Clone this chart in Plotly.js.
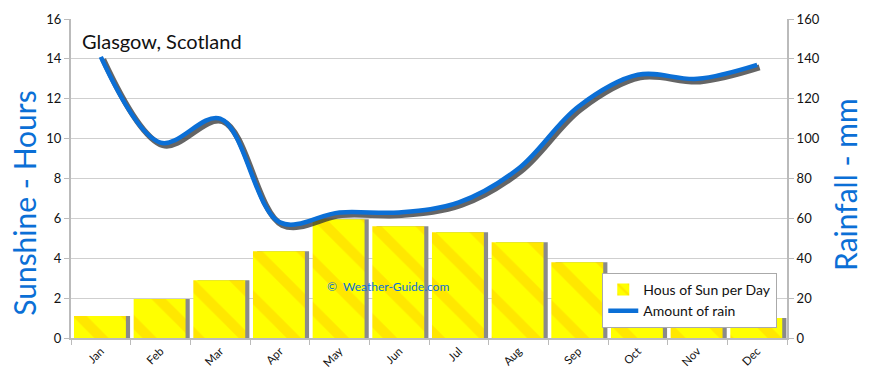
<!DOCTYPE html>
<html>
<head>
<meta charset="utf-8">
<script src="https://cdn.plot.ly/plotly-3.0.1.min.js"></script>
<style>html,body{margin:0;padding:0;background:#fff}#chart{width:870px;height:377px}</style>
</head>
<body>
<div id="chart"></div>
<script>
const months = ["Jan","Feb","Mar","Apr","May","Jun","Jul","Aug","Sep","Oct","Nov","Dec"];
const sunHours = [1.1, 1.95, 2.9, 4.35, 5.95, 5.6, 5.3, 4.8, 3.8, 2.5, 1.4, 1.0];
const rainMm = [141, 98, 110, 58, 63, 63, 68, 85, 116, 132, 130, 137];
const leftTicks = [0,2,4,6,8,10,12,14,16];
const rightTicks = [0,20,40,60,80,100,120,140,160];

const FONT = "Lato, 'DejaVu Sans', sans-serif";
const BLUE = "#0b6fd6";

const traces = [
  { // bar shadow
    type: "bar", x: months, y: sunHours, xaxis: "x", yaxis: "y",
    width: 0.87, offset: -0.38,
    marker: {color: "#8a8a8a", line: {width: 0}},
    showlegend: false, hoverinfo: "skip"
  },
  {
    type: "bar", name: "Hous of Sun per Day", x: months, y: sunHours, xaxis: "x", yaxis: "y",
    width: 0.87, offset: -0.45,
    marker: {color: "#ffff00", line: {width: 0},
      pattern: {shape: "\\", fgcolor: "#ffb000", fgopacity: 0.3, size: 34, solidity: 0.3, fillmode: "overlay"}}
  },
  { // line shadow
    type: "scatter", mode: "lines", x: months, y: rainMm, xaxis: "x2", yaxis: "y2",
    line: {color: "rgba(50,50,50,0.75)", width: 6, shape: "spline", smoothing: 1},
    showlegend: false, hoverinfo: "skip"
  },
  {
    type: "scatter", mode: "lines", name: "Amount of rain", x: months, y: rainMm, xaxis: "x3", yaxis: "y3",
    line: {color: BLUE, width: 4.5, shape: "spline", smoothing: 1}
  }
];

const layout = {
  width: 870, height: 377,
  margin: {l: 71, r: 83, t: 19, b: 39},
  paper_bgcolor: "#fff", plot_bgcolor: "#fff",
  font: {family: FONT, size: 13, color: "#111"},
  barmode: "overlay",
  showlegend: true,
  legend: {x: 0.742, y: 0.204, xanchor: "left", yanchor: "top",
    bgcolor: "#fff", bordercolor: "#aaa", borderwidth: 1,
    font: {family: FONT, size: 14, color: "#111"}, tracegroupgap: 4},
  xaxis: {type: "category", range: [-0.5, 11.5], categoryarray: months,
    showgrid: false, showline: true, linecolor: "#bbb", linewidth: 2,
    ticks: "outside", tickson: "boundaries", ticklen: 5, tickcolor: "#bbb",
    tickangle: -45, tickfont: {size: 11.5, family: FONT, color: "#111"}, zeroline: false, fixedrange: true},
  xaxis2: {type: "category", overlaying: "x", range: [-0.54, 11.46], categoryarray: months, visible: false, fixedrange: true},
  xaxis3: {type: "category", overlaying: "x", range: [-0.5, 11.5], categoryarray: months, visible: false, fixedrange: true},
  yaxis: {range: [0, 16], tickvals: leftTicks, ticktext: leftTicks.map(String),
    showgrid: true, gridcolor: "#cfcfcf", gridwidth: 1,
    showline: true, linecolor: "#bbb", linewidth: 2,
    ticks: "outside", ticklen: 5, tickcolor: "#bbb", zeroline: false,
    tickfont: {size: 13, family: FONT, color: "#111"},
    fixedrange: true},
  yaxis2: {range: [1.3, 161.3], overlaying: "y", visible: false, fixedrange: true},
  yaxis3: {range: [0, 160], overlaying: "y", side: "right", tickvals: rightTicks, ticktext: rightTicks.map(String),
    showgrid: false, showline: true, linecolor: "#bbb", linewidth: 2,
    ticks: "outside", ticklen: 5, tickcolor: "#bbb", zeroline: false,
    tickfont: {size: 13, family: FONT, color: "#111"},
    fixedrange: true},
  annotations: [
    {text: "Glasgow, Scotland", xref: "paper", yref: "paper", x: 0.012, y: 0.975,
     xanchor: "left", yanchor: "top", showarrow: false, font: {size: 20, family: FONT, color: "#111"}},
    {text: "©  Weather-Guide.com", xref: "paper", yref: "paper", x: 0.355, y: 0.16,
     xanchor: "left", yanchor: "middle", showarrow: false, font: {size: 12, family: FONT, color: BLUE}},
    {text: "Sunshine - Hours", xref: "paper", yref: "paper", x: -0.066, y: 0.423,
     xanchor: "center", yanchor: "middle", textangle: -90, showarrow: false,
     font: {size: 30, family: FONT, color: BLUE}},
    {text: "Rainfall - mm", xref: "paper", yref: "paper", x: 1.081, y: 0.483,
     xanchor: "center", yanchor: "middle", textangle: -90, showarrow: false,
     font: {size: 30, family: FONT, color: BLUE}}
  ]
};

Plotly.newPlot("chart", traces, layout, {displayModeBar: false, staticPlot: true});
</script>
</body>
</html>
